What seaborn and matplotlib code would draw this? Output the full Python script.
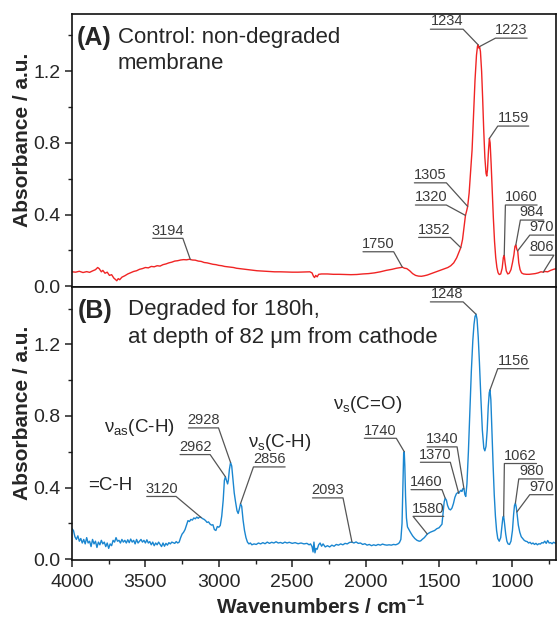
import numpy as np
import pandas as pd
import matplotlib
matplotlib.use("Agg")
import matplotlib.pyplot as plt
import seaborn as sns
from matplotlib.ticker import MultipleLocator

############################ Spectra ######################################################
# (A) control, non-degraded membrane
wn_a = [4000, 3975, 3950, 3925, 3900, 3880, 3860, 3840, 3825, 3815, 3800, 3790, 3775, 3760,
        3745, 3730, 3715, 3705, 3695, 3685, 3675, 3660, 3640, 3620, 3600, 3580, 3560, 3540,
        3520, 3500, 3480, 3460, 3440, 3420, 3400, 3380, 3360, 3340, 3320, 3300, 3280, 3260,
        3240, 3220, 3200, 3180, 3160, 3140, 3120, 3100, 3080, 3060, 3040, 3020, 3000, 2980,
        2960, 2940, 2920, 2900, 2880, 2860, 2840, 2820, 2800, 2780, 2760, 2740, 2700, 2660,
        2620, 2580, 2540, 2500, 2460, 2420, 2400, 2380, 2365, 2355, 2348, 2340, 2330, 2320,
        2300, 2260, 2220, 2180, 2140, 2100, 2060, 2020, 1980, 1940, 1900, 1860, 1820, 1790,
        1760, 1750, 1735, 1720, 1700, 1680, 1660, 1640, 1620, 1600, 1580, 1560, 1540, 1520,
        1500, 1480, 1460, 1440, 1420, 1400, 1380, 1365, 1352, 1340, 1330, 1320, 1312, 1305,
        1295, 1285, 1275, 1265, 1255, 1245, 1238, 1234, 1229, 1224, 1218, 1210, 1203, 1196,
        1188, 1180, 1175, 1170, 1163, 1157, 1152, 1145, 1138, 1130, 1122, 1114, 1106, 1098,
        1090, 1080, 1070, 1062, 1056, 1050, 1042, 1032, 1022, 1010, 1000, 990, 983, 977,
        970, 964, 957, 948, 938, 925, 905, 885, 865, 845, 825, 806, 790, 780, 760, 740, 720, 700]
abs_a = [0.080, 0.078, 0.083, 0.076, 0.081, 0.077, 0.085, 0.092, 0.104, 0.098, 0.080, 0.088,
         0.072, 0.078, 0.060, 0.064, 0.045, 0.038, 0.030, 0.042, 0.036, 0.050, 0.058, 0.068,
         0.075, 0.082, 0.086, 0.094, 0.098, 0.104, 0.102, 0.110, 0.108, 0.114, 0.112, 0.120,
         0.124, 0.130, 0.134, 0.140, 0.142, 0.146, 0.148, 0.147, 0.150, 0.146, 0.145, 0.140,
         0.138, 0.132, 0.130, 0.126, 0.122, 0.120, 0.116, 0.114, 0.110, 0.108, 0.106, 0.104,
         0.100, 0.098, 0.096, 0.094, 0.092, 0.090, 0.088, 0.086, 0.084, 0.082, 0.080, 0.080,
         0.079, 0.078, 0.078, 0.079, 0.080, 0.080, 0.074, 0.055, 0.048, 0.060, 0.052, 0.066,
         0.068, 0.068, 0.066, 0.066, 0.065, 0.064, 0.065, 0.068, 0.070, 0.074, 0.080, 0.088,
         0.094, 0.100, 0.104, 0.106, 0.100, 0.098, 0.086, 0.070, 0.060, 0.056, 0.055, 0.058,
         0.062, 0.068, 0.074, 0.080, 0.086, 0.092, 0.098, 0.104, 0.114, 0.130, 0.158, 0.188,
         0.215, 0.260, 0.330, 0.395, 0.420, 0.445, 0.520, 0.640, 0.760, 0.950, 1.150, 1.290,
         1.340, 1.348, 1.330, 1.338, 1.310, 1.200, 1.050, 0.880, 0.720, 0.630, 0.615, 0.650,
         0.760, 0.825, 0.800, 0.680, 0.540, 0.380, 0.250, 0.160, 0.105, 0.075, 0.065, 0.068,
         0.100, 0.160, 0.172, 0.130, 0.085, 0.068, 0.072, 0.092, 0.130, 0.175, 0.222, 0.230,
         0.205, 0.195, 0.130, 0.092, 0.074, 0.068, 0.066, 0.066, 0.068, 0.070, 0.074, 0.080,
         0.078, 0.082, 0.080, 0.088, 0.094, 0.098]

# (B) degraded for 180h, 82 um from cathode
wn_b = [4000, 3990, 3980, 3970, 3960, 3950, 3940, 3930, 3920, 3910, 3900, 3890, 3880, 3870,
        3860, 3850, 3840, 3830, 3820, 3810, 3800, 3790, 3780, 3770, 3760, 3750, 3740, 3730,
        3720, 3710, 3700, 3690, 3680, 3670, 3660, 3650, 3640, 3630, 3620, 3610, 3600, 3590,
        3580, 3570, 3560, 3550, 3540, 3530, 3520, 3510, 3500, 3490, 3480, 3470, 3460, 3450,
        3440, 3430, 3420, 3410, 3400, 3390, 3380, 3370, 3360, 3350, 3340, 3330, 3320, 3300,
        3290, 3280, 3270, 3260, 3250, 3240, 3230, 3220, 3210, 3200, 3190, 3180, 3170, 3160,
        3150, 3140, 3130, 3120, 3110, 3100, 3090, 3080, 3070, 3060, 3050, 3040, 3030, 3020,
        3010, 3000, 2990, 2980, 2970, 2962, 2955, 2948, 2940, 2935, 2928, 2920, 2912, 2904,
        2895, 2886, 2876, 2868, 2860, 2852, 2844, 2835, 2825, 2815, 2805, 2795, 2785, 2775,
        2760, 2745, 2730, 2715, 2700, 2685, 2670, 2655, 2640, 2625, 2610, 2595, 2580, 2565,
        2550, 2535, 2520, 2500, 2480, 2460, 2440, 2420, 2400, 2385, 2375, 2365, 2358, 2352,
        2345, 2338, 2330, 2320, 2310, 2300, 2290, 2275, 2260, 2245, 2230, 2215, 2200, 2185,
        2170, 2155, 2140, 2125, 2110, 2093, 2080, 2065, 2050, 2035, 2020, 2005, 1990, 1975,
        1960, 1945, 1930, 1915, 1900, 1885, 1870, 1855, 1840, 1825, 1810, 1795, 1780, 1770,
        1760, 1752, 1746, 1741, 1737, 1733, 1728, 1722, 1715, 1705, 1695, 1680, 1665, 1650,
        1635, 1625, 1615, 1600, 1590, 1580, 1570, 1560, 1545, 1530, 1515, 1500, 1490, 1480,
        1472, 1465, 1458, 1450, 1442, 1432, 1422, 1412, 1402, 1392, 1382, 1372, 1366, 1358,
        1350, 1344, 1337, 1330, 1324, 1318, 1310, 1300, 1290, 1280, 1270, 1262, 1255, 1248,
        1241, 1233, 1225, 1215, 1205, 1195, 1188, 1180, 1172, 1165, 1158, 1153, 1147, 1140,
        1132, 1124, 1116, 1108, 1100, 1090, 1080, 1072, 1065, 1060, 1054, 1046, 1038, 1030,
        1020, 1010, 1000, 992, 986, 980, 974, 968, 960, 950, 940, 930, 920, 910, 900, 890,
        880, 870, 860, 850, 840, 830, 820, 810, 800, 790, 780, 770, 760, 750, 740, 730, 720,
        710, 700]
abs_b = [0.170, 0.160, 0.125, 0.110, 0.130, 0.100, 0.115, 0.090, 0.110, 0.085, 0.120, 0.090,
         0.100, 0.070, 0.110, 0.085, 0.100, 0.065, 0.095, 0.080, 0.105, 0.085, 0.095, 0.070,
         0.090, 0.060, 0.085, 0.075, 0.105, 0.095, 0.120, 0.100, 0.105, 0.090, 0.110, 0.095,
         0.105, 0.090, 0.108, 0.092, 0.112, 0.095, 0.105, 0.085, 0.110, 0.090, 0.100, 0.110,
         0.095, 0.105, 0.090, 0.108, 0.090, 0.098, 0.080, 0.095, 0.075, 0.090, 0.080, 0.095,
         0.082, 0.070, 0.090, 0.072, 0.088, 0.078, 0.092, 0.085, 0.095, 0.088, 0.098, 0.090,
         0.095, 0.120, 0.140, 0.150, 0.165, 0.190, 0.215, 0.210, 0.222, 0.218, 0.230, 0.225,
         0.235, 0.228, 0.236, 0.232, 0.226, 0.222, 0.215, 0.205, 0.208, 0.196, 0.190, 0.192,
         0.165, 0.160, 0.182, 0.178, 0.188, 0.240, 0.330, 0.440, 0.460, 0.440, 0.420, 0.440,
         0.500, 0.540, 0.520, 0.450, 0.370, 0.320, 0.270, 0.255, 0.280, 0.310, 0.295, 0.220,
         0.160, 0.120, 0.095, 0.085, 0.090, 0.080, 0.085, 0.082, 0.090, 0.085, 0.092, 0.086,
         0.095, 0.088, 0.094, 0.090, 0.097, 0.090, 0.093, 0.088, 0.095, 0.090, 0.094, 0.088,
         0.092, 0.086, 0.090, 0.085, 0.088, 0.080, 0.085, 0.070, 0.040, 0.095, 0.035, 0.060,
         0.055, 0.080, 0.090, 0.072, 0.085, 0.068, 0.075, 0.068, 0.078, 0.072, 0.082, 0.078,
         0.085, 0.080, 0.088, 0.085, 0.093, 0.095, 0.090, 0.096, 0.088, 0.090, 0.082, 0.086,
         0.078, 0.082, 0.075, 0.080, 0.076, 0.082, 0.078, 0.084, 0.080, 0.078, 0.080, 0.078,
         0.082, 0.080, 0.085, 0.092, 0.110, 0.200, 0.400, 0.590, 0.600, 0.520, 0.350, 0.230,
         0.180, 0.165, 0.150, 0.130, 0.115, 0.105, 0.100, 0.102, 0.110, 0.120, 0.130, 0.140,
         0.145, 0.150, 0.155, 0.160, 0.170, 0.175, 0.185, 0.195, 0.260, 0.320, 0.340, 0.330,
         0.300, 0.280, 0.275, 0.285, 0.310, 0.345, 0.365, 0.372, 0.368, 0.378, 0.385, 0.378,
         0.395, 0.392, 0.360, 0.350, 0.420, 0.600, 0.820, 1.050, 1.220, 1.310, 1.355, 1.368,
         1.340, 1.240, 1.100, 0.900, 0.720, 0.620, 0.605, 0.630, 0.720, 0.850, 0.930, 0.945,
         0.890, 0.720, 0.530, 0.360, 0.240, 0.160, 0.115, 0.100, 0.120, 0.180, 0.235, 0.240,
         0.200, 0.140, 0.100, 0.085, 0.082, 0.100, 0.160, 0.250, 0.300, 0.312, 0.290, 0.250,
         0.190, 0.150, 0.125, 0.115, 0.105, 0.100, 0.098, 0.090, 0.094, 0.085, 0.090, 0.082,
         0.088, 0.080, 0.086, 0.084, 0.092, 0.090, 0.100, 0.088, 0.104, 0.090, 0.092, 0.086,
         0.094, 0.090, 0.088]

############################ Peak labels ##################################################
peak_txt_a = ["1234", "1223", "1159", "1305", "1320", "1352", "1750", "1060", "984", "970", "806", "3194"]
peak_wn_a = [1234, 1224, 1157, 1305, 1320, 1352, 1750, 1056, 977, 965, 790, 3194]
peak_txt_b = ["3120", "2962", "2928", "2856", "2093", "1740", "1340", "1370", "1460", "1580",
              "1248", "1156", "1062", "980", "970"]
peak_wn_b = [3120, 2955, 2920, 2852, 2093, 1737, 1330, 1366, 1458, 1580, 1248, 1153, 1060, 980, 970]

# underline (left wn, right wn, height) and the end the leader line leaves from
ul_a = [(1559, 1336, 1.435, "r"), (1116, 900, 1.385, "l"), (1100, 889, 0.894, "l"),
        (1668, 1450, 0.577, "r"), (1661, 1450, 0.453, "r"), (1639, 1423, 0.272, "r"),
        (2018, 1809, 0.192, "r"), (1048, 832, 0.453, "l"), (946, 787, 0.369, "l"),
        (882, 718, 0.285, "l"), (882, 718, 0.173, "r"), (3450, 3245, 0.267, "r")]
ul_b = [(3491, 3291, 0.350, "r"), (3264, 3059, 0.584, "r"), (3207, 3002, 0.733, "r"),
        (2764, 2548, 0.515, "l"), (2362, 2154, 0.342, "r"), (2009, 1791, 0.675, "r"),
        (1582, 1377, 0.627, "r"), (1627, 1423, 0.541, "r"), (1691, 1480, 0.388, "r"),
        (1677, 1468, 0.239, "l"), (1559, 1336, 1.437, "r"), (1100, 889, 1.064, "l"),
        (1055, 836, 0.534, "l"), (957, 787, 0.448, "l"), (882, 723, 0.360, "l")]

############################ Style ########################################################
sns.set_style("ticks")
plt.rcParams['font.family'] = ['Liberation Sans', 'DejaVu Sans']
plt.rcParams['mathtext.fontset'] = 'custom'
plt.rcParams['mathtext.rm'] = 'Liberation Sans'
plt.rcParams['mathtext.bf'] = 'Liberation Sans:bold'
plt.rcParams['axes.linewidth'] = 1.2

RED = '#f02424'
BLUE = '#1a86d0'
GREY = '#555555'


def label_peaks(ax, wn, ab, texts, targets, lines):
    x = np.array(wn[::-1], dtype=float)
    y = np.array(ab[::-1], dtype=float)
    for t, pk, (l, r, h, side) in zip(texts, targets, lines):
        py = np.interp(pk, x, y)
        if side == "r":
            xs, ys = [l, r, pk], [h, h, py]
        else:
            xs, ys = [r, l, pk], [h, h, py]
        ax.plot(xs, ys, color=GREY, lw=0.9)
        ax.text((l + r) / 2, h + 0.004, t, ha='center', va='bottom', fontsize=10.5, color='#3a3a3a')


def setup_axes(ax, bottom_labels):
    ax.set_xlim(4000, 700)
    ax.set_ylim(-0.005, 1.52)
    ax.xaxis.set_major_locator(MultipleLocator(500))
    ax.xaxis.set_minor_locator(MultipleLocator(250))
    ax.yaxis.set_major_locator(MultipleLocator(0.4))
    ax.yaxis.set_minor_locator(MultipleLocator(0.2))
    ax.yaxis.set_major_formatter(matplotlib.ticker.FormatStrFormatter('%.1f'))
    ax.tick_params(which='major', direction='out', length=5, width=1.1, labelsize=14, color='#222222')
    ax.tick_params(which='minor', direction='out', length=3, width=1.0, color='#222222')
    ax.tick_params(axis='y', pad=3)
    ax.tick_params(axis='x', pad=5)
    if not bottom_labels:
        ax.tick_params(axis='x', which='both', bottom=False, labelbottom=False)
    ax.set_ylabel('Absorbance / a.u.', fontsize=15, fontweight='bold')
    ax.yaxis.set_label_coords(-0.083, 0.54)
    for s in ax.spines.values():
        s.set_visible(True)
        s.set_color('#111111')


fig = plt.figure(figsize=(5.58, 6.19), dpi=100)
ax_a = fig.add_axes([0.129, 0.5363, 0.8683, 0.4411])
ax_b = fig.add_axes([0.129, 0.0953, 0.8683, 0.4410])

df_a = pd.DataFrame({'wn': wn_a, 'abs': abs_a})
df_b = pd.DataFrame({'wn': wn_b, 'abs': abs_b})
sns.lineplot(data=df_a, x='wn', y='abs', ax=ax_a, color=RED, lw=1.0, sort=False, estimator=None)
sns.lineplot(data=df_b, x='wn', y='abs', ax=ax_b, color=BLUE, lw=1.0, sort=False, estimator=None)

setup_axes(ax_a, False)
setup_axes(ax_b, True)
ax_a.set_xlabel('')
ax_b.set_xlabel(r'Wavenumbers / cm$^{\mathbf{-1}}$', fontsize=15, fontweight='bold')
ax_b.xaxis.label.set_va('center')
ax_b.xaxis.set_label_coords(0.512, -0.172)

label_peaks(ax_a, wn_a, abs_a, peak_txt_a, peak_wn_a, ul_a)
label_peaks(ax_b, wn_b, abs_b, peak_txt_b, peak_wn_b, ul_b)

############################ Panel titles #################################################
ax_a.text(0.010, 0.886, '(A)', transform=ax_a.transAxes, fontsize=18, fontweight='bold', va='baseline')
ax_a.text(0.095, 0.895, 'Control: non-degraded', transform=ax_a.transAxes, fontsize=16, va='baseline')
ax_a.text(0.095, 0.797, 'membrane', transform=ax_a.transAxes, fontsize=16, va='baseline')
ax_b.text(0.011, 0.888, '(B)', transform=ax_b.transAxes, fontsize=18, fontweight='bold', va='baseline')
ax_b.text(0.115, 0.897, 'Degraded for 180h,', transform=ax_b.transAxes, fontsize=16, va='baseline')
ax_b.text(0.115, 0.794, 'at depth of 82 \u03bcm from cathode', transform=ax_b.transAxes, fontsize=16, va='baseline')

# band assignments
ax_b.text(3782, 0.735, '\u03bd$_{\\rm as}$(C-H)', fontsize=13.5, va='center', ha='left')
ax_b.text(3891, 0.410, '=C-H', fontsize=13.5, va='center', ha='left')
ax_b.text(2800, 0.651, '\u03bd$_{\\rm s}$(C-H)', fontsize=13.5, va='center', ha='left')
ax_b.text(2220, 0.864, '\u03bd$_{\\rm s}$(C=O)', fontsize=13.5, va='center', ha='left')

plt.savefig('out.png', dpi=100)
